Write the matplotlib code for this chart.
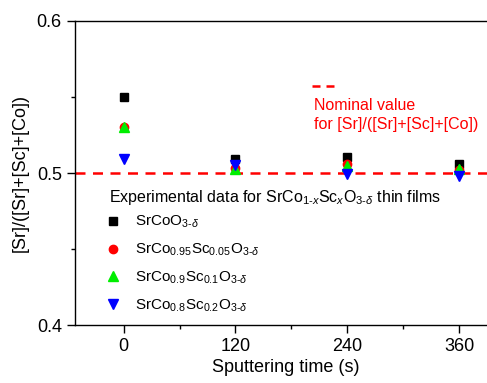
import matplotlib
matplotlib.use("Agg")
import matplotlib.pyplot as plt
from matplotlib.ticker import MultipleLocator

plt.rcParams['font.family'] = ['Liberation Sans', 'DejaVu Sans']
plt.rcParams['mathtext.fontset'] = 'custom'
plt.rcParams['mathtext.rm'] = 'Liberation Sans'
plt.rcParams['mathtext.it'] = 'Liberation Sans:italic'

# data
time_s = [0, 120, 240, 360]
sr_pure = [0.550, 0.509, 0.5105, 0.5057]
sr_sc005 = [0.530, 0.503, 0.5057, 0.502]
sr_sc01 = [0.530, 0.5026, 0.5046, 0.5026]
sr_sc02 = [0.509, 0.5053, 0.4993, 0.4977]
nominal = 0.5

labels = [r'SrCoO$_{3\text{-}\delta}$',
          r'SrCo$_{0.95}$Sc$_{0.05}$O$_{3\text{-}\delta}$',
          r'SrCo$_{0.9}$Sc$_{0.1}$O$_{3\text{-}\delta}$',
          r'SrCo$_{0.8}$Sc$_{0.2}$O$_{3\text{-}\delta}$']

fig = plt.figure(figsize=(4.87, 3.83), dpi=100)
ax = fig.add_axes([75/487, 58/383, 1 - 75/487 + 0.02, 304/383])

ax.axhline(nominal, color='#ff0000', ls=(0, (4, 3)), lw=1.8, zorder=1)

ax.plot(time_s, sr_pure, 's', color='black', ms=6, label=labels[0])
ax.plot(time_s, sr_sc005, 'o', color='#ff0000', ms=6, label=labels[1])
ax.plot(time_s, sr_sc01, '^', color='#00ee00', ms=6.5, label=labels[2])
ax.plot(time_s, sr_sc02, 'v', color='#0000ff', ms=6.5, label=labels[3])

ax.set_xlim(-52, 400)
ax.set_ylim(0.4, 0.6)
ax.xaxis.set_major_locator(MultipleLocator(120))
ax.xaxis.set_minor_locator(MultipleLocator(60))
ax.yaxis.set_major_locator(MultipleLocator(0.1))
ax.yaxis.set_minor_locator(MultipleLocator(0.05))
ax.tick_params(which='major', direction='out', length=6, width=1, labelsize=13)
ax.tick_params(which='minor', direction='out', length=3, width=1)
ax.spines['right'].set_visible(False)
for s in ['left', 'top', 'bottom']:
    ax.spines[s].set_linewidth(1)

ax.set_xlabel('Sputtering time (s)', fontsize=13, labelpad=3)
ax.set_ylabel('[Sr]/([Sr]+[Sc]+[Co])', fontsize=13, labelpad=6)

ax.text(0.081, 0.421,
        r'Experimental data for SrCo$_{1\text{-}x}$Sc$_{x}$O$_{3\text{-}\delta}$ thin films',
        transform=ax.transAxes, fontsize=11.5, va='center', ha='left')
ax.legend(loc='upper left', bbox_to_anchor=(0.058, 0.385), frameon=False,
          fontsize=11, handletextpad=0.9, handlelength=1.0,
          labelspacing=0.75, borderaxespad=0)

# legend key for the nominal line
ax.plot([0.562, 0.619], [0.787, 0.787], transform=ax.transAxes,
        color='#ff0000', ls=(0, (3.2, 2.4)), lw=1.8, clip_on=False)
ax.text(0.567, 0.747, 'Nominal value\nfor [Sr]/([Sr]+[Sc]+[Co])',
        transform=ax.transAxes, color='#ff0000', fontsize=11.5,
        va='top', ha='left', linespacing=1.3)

fig.savefig('out.png', dpi=100)
